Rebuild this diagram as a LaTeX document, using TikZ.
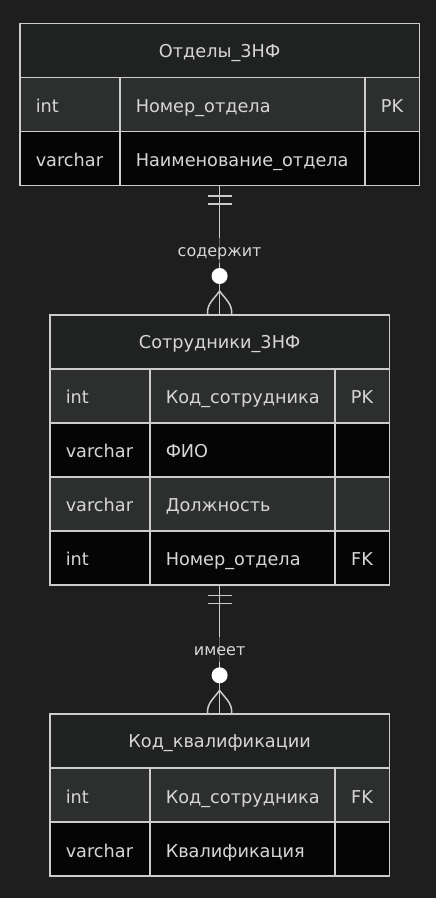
\documentclass[tikz,border=0pt]{standalone}
\usepackage{fontspec}
\setmainfont{DejaVu Sans}
\usetikzlibrary{positioning}

\definecolor{bg}{HTML}{1E1E1E}
\definecolor{headfill}{HTML}{202221}
\definecolor{rowlight}{HTML}{2D2F2F}
\definecolor{rowdark}{HTML}{050505}
\definecolor{edge}{HTML}{CCCCCC}
\definecolor{txt}{HTML}{D6D6D6}

\begin{document}
\begin{tikzpicture}[x=1pt, y=-1pt,
	font=\fontsize{17.7}{21}\selectfont,
	cell/.style={draw=edge, line width=1.5pt, minimum height=54pt, inner sep=0pt, anchor=north west, text=txt, text height=17pt, text depth=1pt},
	hdr/.style={cell, fill=headfill, text height=15pt, text depth=1.4pt},
	rowa/.style={cell, fill=rowlight},
	rowb/.style={cell, fill=rowdark},
	typ/.style={text width=68pt, inner xsep=16pt, align=left},
	keycol/.style={minimum width=54.7pt},
	conn/.style={draw=edge, line width=1.5pt},
	rel/.style={fill=bg, fill opacity=0.6, text opacity=1, text=txt, inner sep=2pt, text height=17pt, text depth=4pt, font=\fontsize{16}{19}\selectfont}]
	\fill[bg] (0,0) rectangle (436,898);
	\useasboundingbox (0,0) rectangle (436,898);

	% nodes
	\node[hdr, minimum width=399.7pt] (dept) at (19,22.7) {Отделы\_3НФ};
	\node[rowa, typ] (dept-t1) at (19,76.7) {int};
	\node[rowa, text width=213pt, inner xsep=16pt, align=left] (dept-n1) at (119,76.7) {Номер\_отдела};
	\node[rowa, keycol] (dept-k1) at (364,76.7) {PK};
	\node[rowb, typ] (dept-t2) at (19,130.7) {varchar};
	\node[rowb, text width=213pt, inner xsep=16pt, align=left] (dept-n2) at (119,130.7) {Наименование\_отдела};
	\node[rowb, keycol] (dept-k2) at (364,130.7) {};

	\node[hdr, minimum width=339.7pt] (emp) at (49,314) {Сотрудники\_3НФ};
	\node[rowa, typ] (emp-t1) at (49,368) {int};
	\node[rowa, text width=153pt, inner xsep=16pt, align=left] (emp-n1) at (149,368) {Код\_сотрудника};
	\node[rowa, keycol] (emp-k1) at (334,368) {PK};
	\node[rowb, typ] (emp-t2) at (49,422) {varchar};
	\node[rowb, text width=153pt, inner xsep=16pt, align=left] (emp-n2) at (149,422) {ФИО};
	\node[rowb, keycol] (emp-k2) at (334,422) {};
	\node[rowa, typ] (emp-t3) at (49,476) {varchar};
	\node[rowa, text width=153pt, inner xsep=16pt, align=left] (emp-n3) at (149,476) {Должность};
	\node[rowa, keycol] (emp-k3) at (334,476) {};
	\node[rowb, typ] (emp-t4) at (49,530) {int};
	\node[rowb, text width=153pt, inner xsep=16pt, align=left] (emp-n4) at (149,530) {Номер\_отдела};
	\node[rowb, keycol] (emp-k4) at (334,530) {FK};

	\node[hdr, minimum width=339.7pt] (qual) at (49,713.3) {Код\_квалификации};
	\node[rowa, typ] (qual-t1) at (49,767.3) {int};
	\node[rowa, text width=153pt, inner xsep=16pt, align=left] (qual-n1) at (149,767.3) {Код\_сотрудника};
	\node[rowa, keycol] (qual-k1) at (334,767.3) {FK};
	\node[rowb, typ] (qual-t2) at (49,821.3) {varchar};
	\node[rowb, text width=153pt, inner xsep=16pt, align=left] (qual-n2) at (149,821.3) {Квалификация};
	\node[rowb, keycol] (qual-k2) at (334,821.3) {};

	\coordinate (dept-bot) at (dept.center |- dept-t2.south);
	\coordinate (emp-bot) at (emp.center |- emp-t4.south);

	% arrows
	\draw[conn] (dept-bot) -- node[rel] {содержит} (emp.north);
	\draw[conn] (emp-bot) -- node[rel] {имеет} (qual.north);

	% one side
	\foreach \a in {dept-bot, emp-bot} {
		\draw[conn] ([shift={(-12,10)}]\a) -- ++(24,0);
		\draw[conn] ([shift={(-12,18)}]\a) -- ++(24,0);
	}
	% zero or many side
	\foreach \b in {emp, qual} {
		\fill[white] ([yshift=38pt]\b.north) circle (8);
		\draw[conn] ([yshift=23pt]\b.north) to[out=-125, in=95] ([xshift=-12pt]\b.north);
		\draw[conn] ([yshift=23pt]\b.north) to[out=-55, in=85] ([xshift=12pt]\b.north);
	}
\end{tikzpicture}
\end{document}
